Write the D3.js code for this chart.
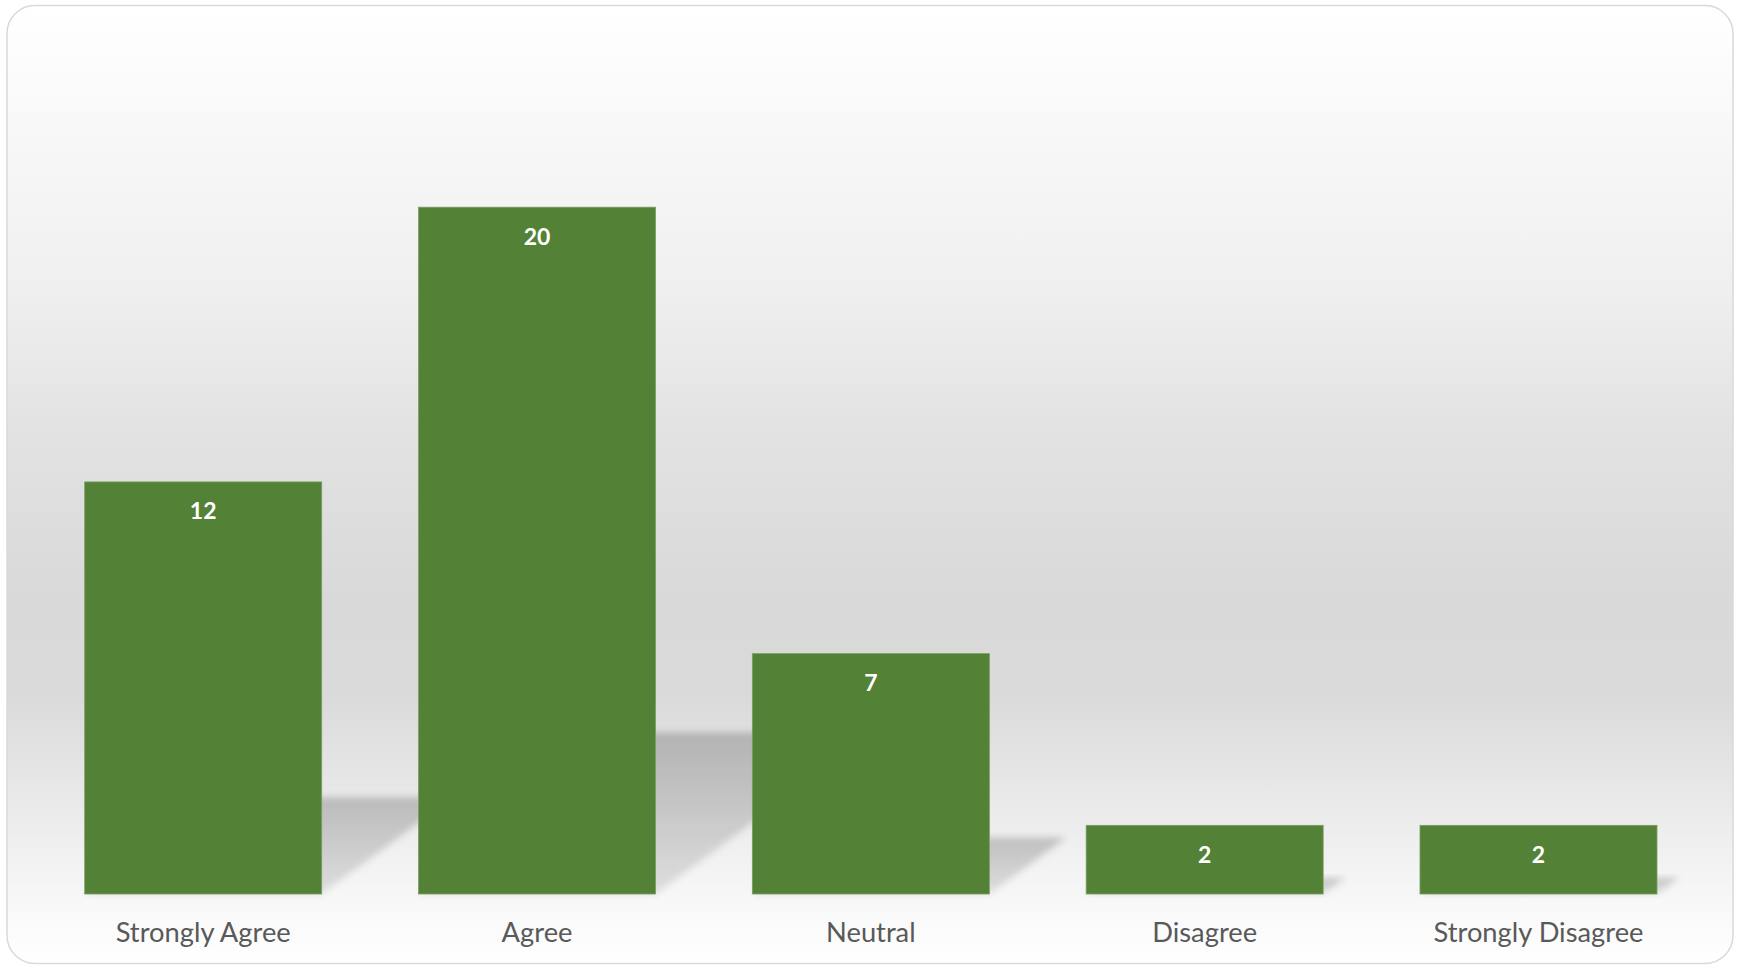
<!DOCTYPE html>
<html><head><meta charset="utf-8">
<script src="https://cdn.jsdelivr.net/npm/d3@7/dist/d3.min.js"></script>
<style>html,body{margin:0;padding:0;background:#fff;}svg{display:block;}</style>
</head><body>
<svg id="chart" width="1737" height="966"></svg>
<script>
const categories = ["Strongly Agree", "Agree", "Neutral", "Disagree", "Strongly Disagree"];
const values = [12, 20, 7, 2, 2];

const W = 1737, H = 966;
const svg = d3.select("#chart");
const defs = svg.append("defs");

const bg = defs.append("linearGradient").attr("id", "bg").attr("x1", 0).attr("y1", 0).attr("x2", 0).attr("y2", 1);
[[0, "#ffffff"], [0.3, "#efefef"], [0.45, "#e2e2e2"], [0.62, "#d9d9d9"], [0.72, "#dadada"], [0.85, "#ececec"], [0.93, "#f7f7f7"], [1, "#ffffff"]]
  .forEach(([o, c]) => bg.append("stop").attr("offset", o).attr("stop-color", c));

const sg = defs.append("linearGradient").attr("id", "sh").attr("x1", 0).attr("y1", 0).attr("x2", 0).attr("y2", 1);
sg.append("stop").attr("offset", 0).attr("stop-color", "#000").attr("stop-opacity", 0.2);
sg.append("stop").attr("offset", 1).attr("stop-color", "#000").attr("stop-opacity", 0.1);

defs.append("filter").attr("id", "blur").attr("x", "-20%").attr("y", "-20%").attr("width", "140%").attr("height", "140%")
  .append("feGaussianBlur").attr("stdDeviation", 3.5);

svg.append("rect").attr("x", 7).attr("y", 5.5).attr("width", 1726).attr("height", 958)
  .attr("rx", 28).attr("fill", "url(#bg)").attr("stroke", "#d9d9d9").attr("stroke-width", 1.5);

const x = d3.scaleBand().domain(categories).range([36.3, 1705.4]).paddingInner(0.29).paddingOuter(0.145);
const y = d3.scaleLinear().domain([0, 20]).range([894, 207.2]);

const data = categories.map((c, i) => ({ c, v: values[i] }));

// perspective shadows
svg.append("g").selectAll("path").data(data).join("path")
  .attr("d", d => {
    const x0 = x(d.c), x1 = x0 + x.bandwidth(), b = y(0), h = b - y(d.v);
    const sh = h * 0.235, dx = h * 0.32;
    return `M${x0},${b} L${x1},${b} L${x1 + dx},${b - sh} L${x0 + dx},${b - sh} Z`;
  })
  .attr("fill", "url(#sh)").attr("filter", "url(#blur)");

svg.append("g").selectAll("rect").data(data).join("rect")
  .attr("x", d => x(d.c)).attr("y", d => y(d.v))
  .attr("width", x.bandwidth()).attr("height", d => y(0) - y(d.v))
  .attr("fill", "#538135").attr("stroke", "#7a9e62").attr("stroke-width", 0.8);

svg.append("g").selectAll("text").data(data).join("text")
  .attr("x", d => x(d.c) + x.bandwidth() / 2).attr("y", d => y(d.v) + 37.5)
  .attr("text-anchor", "middle").attr("fill", "#ffffff")
  .attr("font-family", "Lato, 'Open Sans', sans-serif").attr("font-weight", "bold").attr("font-size", 23)
  .text(d => d.v);

const xAxis = svg.append("g").attr("transform", `translate(0,${y(0)})`)
  .call(d3.axisBottom(x).tickSize(0).tickPadding(0));
xAxis.select(".domain").remove();
xAxis.selectAll("text").attr("y", 47.7).attr("dy", 0)
  .attr("fill", "#595959").attr("font-family", "Lato, 'Open Sans', sans-serif").attr("font-size", 27.3);
</script>
</body></html>
